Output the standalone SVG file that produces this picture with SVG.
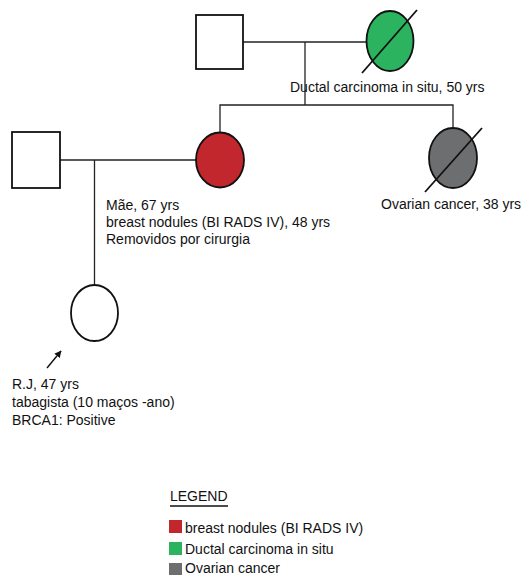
<svg xmlns="http://www.w3.org/2000/svg" width="525" height="577" viewBox="0 0 525 577">
<defs>
<style>
.t{font-family:"Liberation Sans",Arial,sans-serif;font-size:14px;fill:#111}
.sh{stroke:#111;stroke-width:1.8}
.ln{stroke:#222;stroke-width:1.3;fill:none}
.dg{stroke:#111;stroke-width:1.8}
</style>
<marker id="ah" viewBox="0 0 10 10" refX="9" refY="5" markerWidth="7" markerHeight="7" orient="auto" markerUnits="userSpaceOnUse">
<path d="M0,0 L10,5 L0,10 z" fill="#111"/>
</marker>
</defs>
<rect width="525" height="577" fill="#fff"/>
<g id="connectors">
<line class="ln" x1="243" y1="42" x2="366" y2="42"/>
<polyline class="ln" points="305,42 305,105"/>
<polyline class="ln" points="220,132.5 220,105 453,105 453,128"/>
<line class="ln" x1="60" y1="160" x2="196" y2="160"/>
<line class="ln" x1="94.5" y1="160" x2="94.5" y2="285"/>
<line stroke="#111" stroke-width="1.4" x1="47" y1="368" x2="61" y2="351" marker-end="url(#ah)"/>
</g>
<g id="grandfather"><rect class="sh" x="196" y="15" width="47" height="54" fill="#fff"/></g>
<g id="grandmother">
<ellipse class="sh" cx="390" cy="41" rx="23.5" ry="30" fill="#2bb35f"/>
<line class="dg" x1="362" y1="73" x2="417" y2="10"/>
<text class="t" x="290" y="92">Ductal carcinoma in situ, 50 yrs</text>
</g>
<g id="father"><rect class="sh" x="12" y="132" width="48" height="56" fill="#fff"/></g>
<g id="mother">
<ellipse class="sh" cx="220" cy="160" rx="24" ry="27.5" fill="#c1272d"/>
<text class="t" x="106" y="210">Mãe, 67 yrs</text>
<text class="t" x="106" y="227">breast nodules (BI RADS IV), 48 yrs</text>
<text class="t" x="106" y="244">Removidos por cirurgia</text>
</g>
<g id="aunt">
<ellipse class="sh" cx="453" cy="158" rx="24" ry="30" fill="#6d6e70"/>
<line class="dg" x1="425" y1="192" x2="482" y2="128"/>
<text class="t" x="381" y="209">Ovarian cancer, 38 yrs</text>
</g>
<g id="proband">
<ellipse class="sh" cx="94.5" cy="313" rx="23.5" ry="28" fill="#fff"/>
<text class="t" x="12" y="389">R.J, 47 yrs</text>
<text class="t" x="12" y="407">tabagista (10 maços -ano)</text>
<text class="t" x="12" y="425">BRCA1: Positive</text>
</g>
<g id="legend">
<text class="t" x="170" y="501">LEGEND</text>
<line stroke="#111" stroke-width="1.3" x1="170" y1="506" x2="228" y2="506"/>
<rect x="169" y="520" width="13" height="13" fill="#c1272d"/>
<text class="t" x="185" y="533">breast nodules (BI RADS IV)</text>
<rect x="169" y="542" width="13" height="13" fill="#2bb35f"/>
<text class="t" x="185" y="554">Ductal carcinoma in situ</text>
<rect x="169" y="563" width="13" height="12" fill="#6d6e70"/>
<text class="t" x="185" y="573">Ovarian cancer</text>
</g>
</svg>
